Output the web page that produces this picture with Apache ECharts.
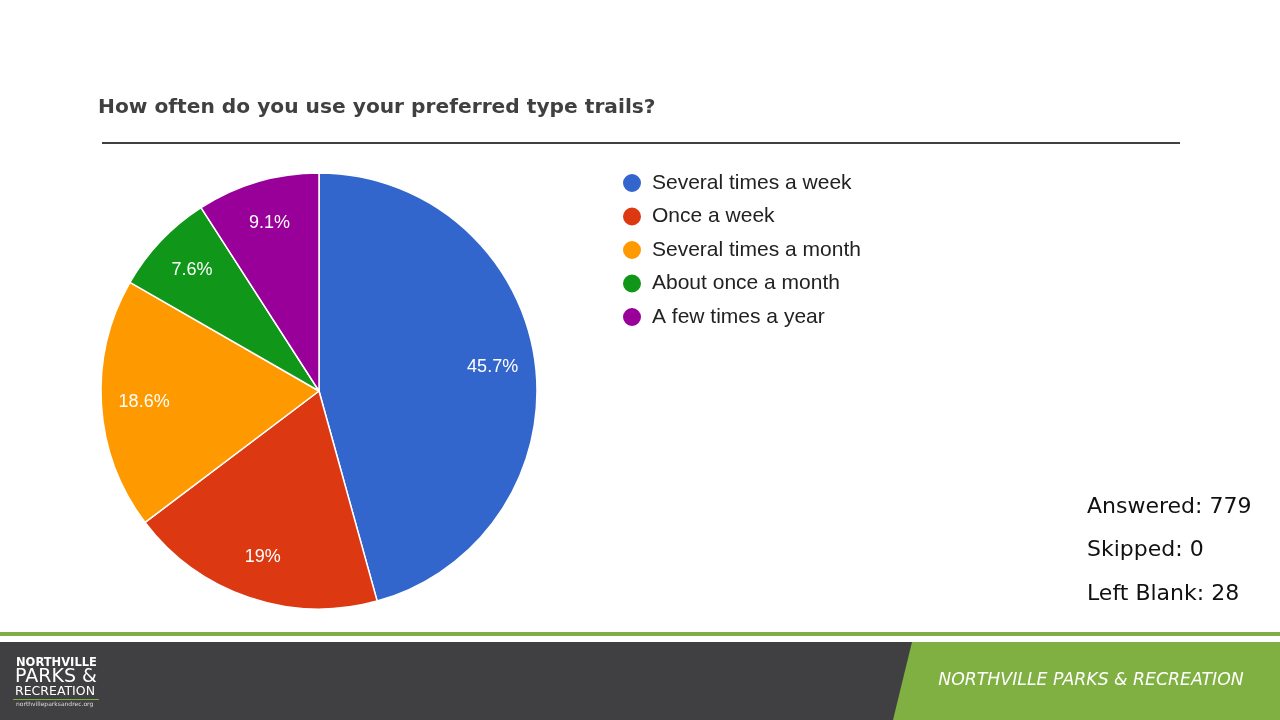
<!DOCTYPE html>
<html>
<head>
<meta charset="utf-8">
<script src="https://cdn.jsdelivr.net/npm/echarts@6/dist/echarts.min.js"></script>
<style>html,body{margin:0;padding:0;background:#fff;}#c{width:1280px;height:720px;}</style>
</head>
<body>
<div id="c"></div>
<script>
const categories = ['Several times a week', 'Once a week', 'Several times a month', 'About once a month', 'A few times a year'];
const values = [45.7, 19, 18.6, 7.6, 9.1];
const colors = ['#3366cc', '#dc3912', '#ff9900', '#109618', '#990099'];
const statsLines = ['Answered: 779', 'Skipped: 0', 'Left Blank: 28'];

const chart = echarts.init(document.getElementById('c'));
const data = categories.map((n, i) => ({ name: n, value: values[i] }));
const cx = 319, cy = 391, R = 218;

chart.setOption({
  animation: false,
  color: colors,
  title: {
    text: 'How often do you use your preferred type trails?',
    left: 93, top: 93,
    textStyle: { fontFamily: 'DejaVu Sans', fontWeight: 'bold', fontSize: 20.2, color: '#404040' }
  },
  legend: {
    orient: 'vertical', left: 616, top: 167,
    icon: 'circle', itemWidth: 20, itemHeight: 20, itemGap: 11.5,
    data: categories,
    textStyle: { fontFamily: 'Liberation Sans', fontSize: 21, color: '#222', padding: [0, 0, 0, 5] }
  },
  series: [
    {
      type: 'pie', center: [cx, cy], radius: R, startAngle: 90, clockwise: true,
      data: data, label: { show: false }, labelLine: { show: false },
      itemStyle: { borderColor: '#fff', borderWidth: 1.5 }, silent: true
    },
    {
      type: 'pie', center: [cx, cy], radius: [R * 0.58, R], startAngle: 90, clockwise: true,
      data: data, silent: true, legendHoverLink: false,
      itemStyle: { color: 'rgba(0,0,0,0)' },
      label: {
        show: true, position: 'inside', color: '#fff', fontSize: 18, fontFamily: 'Liberation Sans',
        formatter: p => p.value + '%'
      },
      labelLine: { show: false }
    }
  ],
  graphic: [
    { type: 'rect', shape: { x: 102, y: 142, width: 1078, height: 2 }, style: { fill: '#404040' } },
    ...statsLines.map((t, i) => ({
      type: 'text', left: 1087, top: 496 + i * 43.5,
      style: { text: t, font: '22px "DejaVu Sans"', fill: '#111' }
    })),
    { type: 'rect', shape: { x: 0, y: 632, width: 1280, height: 4 }, style: { fill: '#7fae45' } },
    { type: 'rect', shape: { x: 0, y: 642, width: 1280, height: 78 }, style: { fill: '#404042' } },
    { type: 'polygon', shape: { points: [[912, 642], [1280, 642], [1280, 720], [893, 720]] }, style: { fill: '#80b042' } },
    { type: 'text', x: 1091, y: 681, style: { text: 'NORTHVILLE PARKS & RECREATION', font: 'italic 17.3px "DejaVu Sans"', fill: '#fff', align: 'center', verticalAlign: 'middle' } },
    { type: 'text', x: 16, y: 657, style: { text: 'NORTHVILLE', font: 'bold 11.5px "DejaVu Sans"', fill: '#fff' } },
    { type: 'text', x: 15, y: 668, style: { text: 'PARKS &', font: '19px "DejaVu Sans"', fill: '#fff' } },
    { type: 'text', x: 15, y: 685, style: { text: 'RECREATION', font: '12.5px "DejaVu Sans"', fill: '#fff' } },
    { type: 'rect', shape: { x: 13, y: 699, width: 86, height: 1 }, style: { fill: '#7fae45' } },
    { type: 'text', x: 16, y: 701, style: { text: 'northvilleparksandrec.org', font: '6px "DejaVu Sans"', fill: '#ddd' } }
  ]
});
</script>
</body>
</html>
